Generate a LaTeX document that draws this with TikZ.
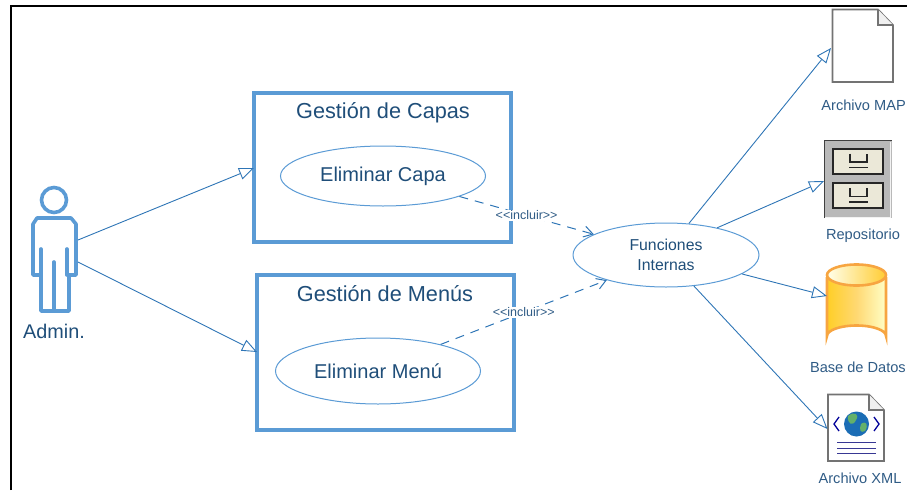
\documentclass[tikz,border=0pt]{standalone}
\usepackage{fontspec}
\setmainfont{Liberation Sans}
\usetikzlibrary{arrows.meta,shapes.geometric,calc}
\definecolor{bx}{HTML}{5B9BD5}
\definecolor{ln}{HTML}{2E75B6}
\definecolor{tx}{HTML}{1F4E79}
\definecolor{lb}{HTML}{2F5B85}
\definecolor{org}{HTML}{F7A541}
\definecolor{cream}{HTML}{EBE8D8}
\definecolor{globe}{HTML}{1B6DB5}
\definecolor{land}{HTML}{63B06A}
\tikzset{
 ucbox/.style={draw=bx,line width=3.6pt,minimum width=#1,inner sep=0pt,outer sep=0pt},
 uc/.style={ellipse,draw=bx,line width=1pt,fill=white,inner sep=0pt,text=tx},
 assoc/.style={draw=ln,line width=.9pt,-{Triangle[open,length=15pt,width=12pt,fill=white]}},
 incl/.style={draw=ln,line width=1pt,dash pattern=on 9pt off 7pt,-{Straight Barb[length=9pt,width=11pt]}},
 tag/.style={fill=white,inner sep=1pt,text=lb,font=\fontsize{12.5}{14}\selectfont},
 iconcap/.style={text=lb,font=\fontsize{14.6}{17}\selectfont,inner sep=0pt},
 anchorbox/.style={minimum width=#1,inner sep=0pt,outer sep=0pt},
}
\begin{document}
\begin{tikzpicture}[x=1pt,y=-1pt]
\useasboundingbox (0,0) rectangle (907,490);
\clip (0,0) rectangle (907,490);
% frame
\draw[line width=2.2pt,black] (11,490) -- (11,6) -- (907,6);
% boxes
\node[ucbox=257pt,minimum height=149pt] (gc) at (382.5,167.5) {};
\node[ucbox=257pt,minimum height=155pt] (gm) at (385.5,352.5) {};
\node[text=tx,font=\fontsize{21.7}{24}\selectfont] (tc) at (383,112.5) {Gestión de Capas};
\node[text=tx,font=\fontsize{21.7}{24}\selectfont] (tm) at (385,294) {Gestión de Menús};
\node[uc,minimum width=205pt,minimum height=60pt,font=\fontsize{20}{23}\selectfont] (ec) at (383,176) {Eliminar Capa};
\node[uc,minimum width=205pt,minimum height=66pt,font=\fontsize{20}{23}\selectfont] (em) at (378,371) {Eliminar Menú};
\node[uc,minimum width=186pt,minimum height=64pt,align=center,font=\fontsize{15.8}{20}\selectfont] (fi) at (666,255) {Funciones\\Internas};
% actor
\node[anchorbox=50pt,minimum height=130pt] (ac) at (53,251) {};
\begin{scope}[line width=3.6pt,line join=round,line cap=round]
\draw[bx] (54,200) circle (12.5);
\draw[bx] (37,218) -- (71,218) -- (76,224) -- (76,275) -- (69,275) -- (69,311) -- (41,311) -- (41,275) -- (33,275) -- (33,224) -- cycle;
\draw[bx] (41,249) -- (41,275);
\draw[bx] (67,249) -- (67,275);
\draw[bx] (54,262) -- (54,311);
\end{scope}
\node[text=tx,font=\fontsize{19.8}{22}\selectfont] (al) at (54,331) {Admin.};
% icon: archivo MAP
\node[anchorbox=62pt,minimum height=73pt] (im) at (862,46) {};
\draw[draw=gray!90!black,line width=1.6pt,fill=white] (832.5,9.5) -- (878,9.5) -- (893,25) -- (893,82) -- (832.5,82) -- cycle;
\draw[draw=gray!90!black,line width=1.6pt,fill=gray!12] (878,9.5) -- (878,25) -- (893,25);
\node[iconcap,anchor=east] (lm) at (906,105) {Archivo MAP};
% icon: repositorio
\node[anchorbox=68pt,minimum height=79pt] (ir) at (858,179) {};
\fill[gray!55!white] (824,140) rectangle (892,218);
\draw[gray!50!black,line width=1.8pt] (824.5,218) -- (824.5,140.5) -- (892,140.5);
\draw[white!90!gray,line width=1pt] (890,142) -- (890,217) -- (825,217);
\foreach \yy in {147.5,182} {
 \fill[black!85] (832,\yy) rectangle (884,\yy+27);
 \fill[cream] (834,\yy+2) rectangle (882,\yy+25);
 \draw[black!85,line width=1.2pt] (850,\yy+6) -- (850,\yy+14.5) -- (867,\yy+14.5) -- (867,\yy+6);
 \draw[black!85,line width=1.4pt] (849,\yy+20) -- (868,\yy+20);
}
\node[iconcap] (lr) at (863,236) {Repositorio};
% icon: base de datos
\node[anchorbox=60pt,minimum height=82pt] (ib) at (857,305) {};
\fill[left color=yellow!55!orange!85!white,right color=yellow!22!white,middle color=yellow!45!orange!55!white] (827,278) -- (827,336) arc[start angle=180,end angle=360,x radius=29.5,y radius=10.5] -- (886,278) -- cycle;
\fill[left color=yellow!8!white,right color=yellow!50!orange!80!white] (856.5,275) ellipse[x radius=29.5,y radius=10];
\draw[org,line width=2.6pt] (827,277) -- (827,336) arc[start angle=180,end angle=360,x radius=29.5,y radius=10.5] -- (886,277);
\draw[org,line width=2.6pt] (856.5,275) ellipse[x radius=29.5,y radius=10.5];
\node[iconcap,anchor=east] (lb) at (906,367) {Base de Datos};
% icon: XML
\node[anchorbox=57pt,minimum height=69pt] (ix) at (856,429) {};
\draw[draw=gray!90!black,line width=1.6pt,fill=white] (828,394.5) -- (869,394.5) -- (884,410) -- (884,461) -- (828,461) -- cycle;
\draw[draw=gray!90!black,line width=1.6pt,fill=gray!12] (869,394.5) -- (869,410) -- (884,410);
\fill[globe] (856.5,424) circle (12.5);
\fill[land] (848,416) .. controls (854,411) and (860,414) .. (856,420) .. controls (853,427) and (847,424) .. (848,416);
\fill[land] (861,424) .. controls (866,420) and (869,425) .. (865,431) .. controls (860,434) and (859,429) .. (861,424);
\draw[blue!60!black,line width=1.3pt] (839,417) -- (834,424) -- (839,431);
\draw[blue!60!black,line width=1.3pt] (874,417) -- (879,424) -- (874,431);
\foreach \yy in {442,448,453.5} \draw[blue!45!gray!80!black,line width=1pt] (837,\yy) -- (876,\yy);
\node[iconcap] (lx) at (860,478) {Archivo XML};
% connectors
\draw[assoc] (ac.east |- 0,240) -- (gc.west |- 0,168);
\draw[assoc] (ac.east |- 0,262) -- (gm.west |- 0,352);
\draw[assoc] (fi.54) -- (im.west |- 0,48);
\draw[assoc] (fi.28) -- (ir.west |- 0,181);
\draw[assoc] (fi.-14) -- (ib.west |- 0,296);
\draw[assoc] (fi.-48) -- (ix.west |- 0,429);
\draw[incl] (ec.-15) -- node[tag,pos=.5] (ti) {<{}<incluir>{}>} (fi.164);
\draw[incl] (em.23) -- node[tag,pos=.5] (tj) {<{}<incluir>{}>} (fi.-157);
\end{tikzpicture}
\end{document}
